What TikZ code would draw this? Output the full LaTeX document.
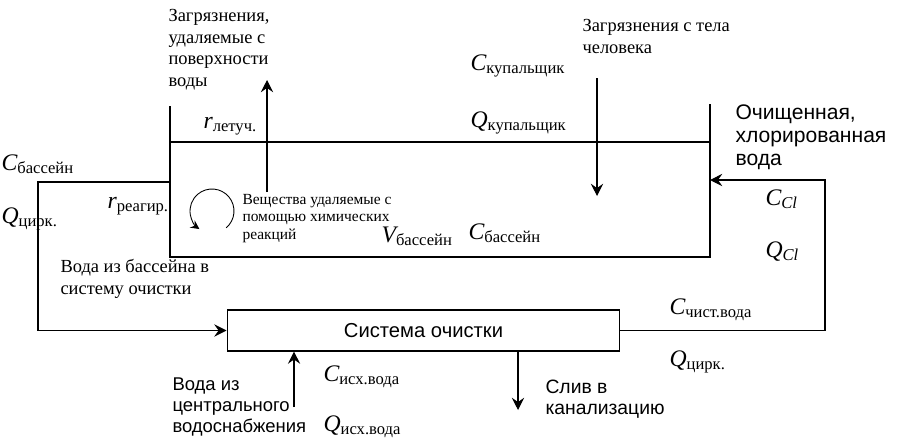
\documentclass[tikz,border=0pt]{standalone}
\usepackage{amsmath}
\usepackage{fontspec}
\setmainfont{Liberation Serif}
\newfontfamily\arial{Liberation Sans}
\usetikzlibrary{arrows.meta,positioning,calc}
\newcommand\mv[2]{$\mathit{#1}_{\text{#2}}$}

\begin{document}
\begin{tikzpicture}[x=0.02cm,y=-0.02cm,line width=0.6pt,
  t/.style={align=left,inner sep=0pt,anchor=north west,font=\fontsize{10.5}{12.2}\selectfont},
  s/.style={align=left,inner sep=0pt,anchor=north west,font=\arial\fontsize{10.5}{12}\selectfont},
  v/.style={inner sep=0pt,anchor=base west,font=\fontsize{13.5}{15}\selectfont},
  box/.style={draw,minimum width=7.86cm,minimum height=0.82cm,font=\arial\fontsize{11.5}{13}\selectfont},
  arr/.style={-{Stealth[length=7pt,width=7pt,inset=2.5pt]}},
  sarr/.style={-{Stealth[length=5pt,width=5pt,inset=1.8pt]},line width=0.5pt}]
\useasboundingbox (0,0) rectangle (922,443);
\coordinate (pTL) at (170,106);
\coordinate (pBL) at (170,257);
\coordinate (pBR) at (710,257);
\coordinate (pTR) at (710,104);
\coordinate (sL) at (170,142);
\coordinate (sR) at (710,142);
\draw (pTL) -- (pBL) -- (pBR) -- (pTR);
\draw (sL) -- (sR);
\node[box] (sys) at (423.5,330.5) {Система очистки};
\node[t] (surf) at (168,9) {Загрязнения,\\удаляемые с\\поверхности\\воды};
\node[t] (body) at (582,19) {Загрязнения с тела\\человека};
\node[s,font=\arial\fontsize{12}{13.3}\selectfont] (clean) at (735,104) {Очищенная,\\хлорированная\\вода};
\node[t,font=\fontsize{8.8}{9.8}\selectfont] (chem) at (242,194) {Вещества удаляемые с\\помощью химических\\реакций};
\node[t] (toclean) at (60,259) {Вода из бассейна в\\систему очистки};
\node[s] (central) at (172,377) {Вода из\\центрального\\водоснабжения};
\node[s,font=\arial\fontsize{11}{12}\selectfont] (sewer) at (545,379) {Слив в\\канализацию};
\node[v] (rvol) at (203,128) {\mv{r}{летуч.}};
\node[v] (cbath) at (470,70) {\mv{C}{купальщик}};
\node[v] (qbath) at (470,127) {\mv{Q}{купальщик}};
\node[v] (cpool) at (1,170) {\mv{C}{бассейн}};
\node[v] (qcirc) at (1,223) {\mv{Q}{цирк.}};
\node[v] (rreac) at (107,208) {\mv{r}{реагир.}};
\node[v] (vpool) at (381,242) {\mv{V}{бассейн}};
\node[v] (cpool2) at (468,239) {\mv{C}{бассейн}};
\node[v] (ccl) at (765,205) {$\mathit{C}_{\mathit{Cl}}$};
\node[v] (qcl) at (765,257) {$\mathit{Q}_{\mathit{Cl}}$};
\node[v] (cclean) at (669,314) {\mv{C}{чист.вода}};
\node[v] (qcirc2) at (669,366) {\mv{Q}{цирк.}};
\node[v] (csrc) at (323,381) {\mv{C}{исх.вода}};
\node[v] (qsrc) at (323,431) {\mv{Q}{исх.вода}};
\coordinate (outL) at (170,182);
\coordinate (lc) at (38,182);
\coordinate (inR) at (710,180);
\coordinate (rc) at (825,180);
\coordinate (feed) at (294,407);
\coordinate (drain) at (518,410);
\coordinate (sb) at (267,192);
\coordinate (st) at (267,80);
\coordinate (bt) at (597,78);
\coordinate (bb) at (597,196);
\coordinate (rx) at (212,211);
\draw[arr] (outL) -- (lc) |- (sys.west);
\draw[arr] (sys.east) -| (rc) -- (inR);
\draw[arr] (feed) -- (feed |- sys.south);
\draw[arr] (drain |- sys.south) -- (drain);
\draw[arr] (sb) -- (st);
\draw[arr] (bt) -- (bb);
\draw[sarr] (rx) ++(50:22) arc[start angle=50,end angle=-235,radius=22];
\end{tikzpicture}
\end{document}
